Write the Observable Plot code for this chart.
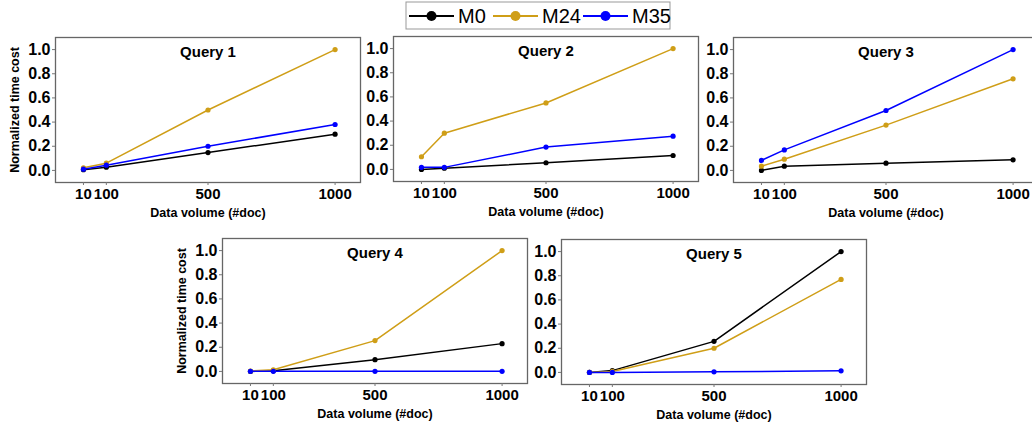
<!DOCTYPE html>
<html><head><meta charset="utf-8">
<script src="https://cdn.jsdelivr.net/npm/d3@7"></script>
<script src="https://cdn.jsdelivr.net/npm/@observablehq/plot@0.6"></script>
<style>
html,body{margin:0;padding:0;background:#fff;}
#root{position:relative;width:1032px;height:426px;overflow:hidden;font-family:"Liberation Sans",Arial,sans-serif;}
.panel{position:absolute;}
</style></head><body><div id="root"></div>
<script>
// ---- data ----
const volumes = [10, 100, 500, 1000];
const xTicks = [10, 100, 500, 1000];
const yTicks = [0, 0.2, 0.4, 0.6, 0.8, 1.0];
const series = ["M0", "M24", "M35"];
const colors = ["#000000", "#cf9e17", "#0000ff"];
const queries = ["Query 1", "Query 2", "Query 3", "Query 4", "Query 5"];
const xLabel = "Data volume (#doc)";
const yLabel = "Normalized time cost";

const q1_M0  = [0.006, 0.027, 0.148, 0.30];
const q1_M24 = [0.022, 0.060, 0.500, 1.00];
const q1_M35 = [0.010, 0.043, 0.200, 0.38];

const q2_M0  = [0.000, 0.010, 0.055, 0.115];
const q2_M24 = [0.105, 0.300, 0.550, 1.000];
const q2_M35 = [0.017, 0.017, 0.185, 0.275];

const q3_M0  = [0.000, 0.035, 0.060, 0.088];
const q3_M24 = [0.035, 0.093, 0.375, 0.758];
const q3_M35 = [0.083, 0.170, 0.496, 1.000];

const q4_M0  = [0.000, 0.005, 0.097, 0.230];
const q4_M24 = [0.003, 0.014, 0.255, 1.000];
const q4_M35 = [0.001, 0.001, 0.001, 0.001];

const q5_M0  = [0.000, 0.015, 0.257, 1.000];
const q5_M24 = [0.000, 0.008, 0.200, 0.770];
const q5_M35 = [0.000, 0.000, 0.005, 0.013];

const values = [
  [q1_M0, q1_M24, q1_M35],
  [q2_M0, q2_M24, q2_M35],
  [q3_M0, q3_M24, q3_M35],
  [q4_M0, q4_M24, q4_M35],
  [q5_M0, q5_M24, q5_M35]
];

// ---- layout ----
const FONT = '"Liberation Sans", Arial, sans-serif';
const panelPos = [[55,37],[393,36],[733,37],[222,238],[561,239]];
const showYLabel = [true,false,false,true,false];
const FW = 305, FH = 145, ML = 60, MT = 10, MR = 10, MB = 45;
const root = document.getElementById("root");

function panel(i) {
  const rows = [];
  series.forEach((s, k) => volumes.forEach((v, j) => rows.push({series: s, volume: v, cost: values[i][k][j]})));
  const marks = [
    Plot.frame({stroke: "#666", strokeWidth: 1.3}),
    Plot.axisX({ticks: xTicks, tickFormat: d => String(d), tickSize: 3, tickPadding: 3, stroke: "#777", fill: "#000",
                fontSize: 15, fontWeight: "bold", label: null}),
    Plot.axisY({ticks: yTicks, tickFormat: d => d.toFixed(1), tickSize: 3, tickPadding: 2, stroke: "#777", fill: "#000",
                fontSize: 16, fontWeight: "bold", label: null}),
    Plot.line(rows, {x: "volume", y: "cost", stroke: "series", z: "series", strokeWidth: 1.5}),
    Plot.dot(rows, {x: "volume", y: "cost", fill: "series", r: 2.6}),
    Plot.text([queries[i]], {frameAnchor: "top", dy: 15, lineAnchor: "middle", textAnchor: "middle",
                             fontSize: 15, fontWeight: "bold", fill: "#000"}),
    Plot.text([xLabel], {frameAnchor: "bottom", dy: 30, lineAnchor: "middle", textAnchor: "middle",
                         fontSize: 12.5, fontWeight: "bold", fill: "#000"})
  ];
  if (showYLabel[i]) marks.push(Plot.text([yLabel], {frameAnchor: "left", dx: -41, rotate: -90, lineAnchor: "middle",
                                  textAnchor: "middle", fontSize: 12.5, fontWeight: "bold", fill: "#000"}));
  const chart = Plot.plot({
    width: ML + FW + MR, height: MT + FH + MB,
    marginLeft: ML, marginTop: MT, marginRight: MR, marginBottom: MB,
    style: {fontFamily: FONT, background: "transparent", overflow: "visible"},
    x: {domain: [-100, 1100]},
    y: {domain: [-0.1, 1.1]},
    color: {domain: series, range: colors},
    marks
  });
  chart.classList.add("panel");
  chart.style.left = (panelPos[i][0] - ML) + "px";
  chart.style.top = (panelPos[i][1] - MT) + "px";
  root.appendChild(chart);
}
queries.forEach((q, i) => panel(i));

// ---- legend ----
const legendX = [2, 86, 176];
const lg = d3.select(root).append("svg")
  .attr("width", 266).attr("height", 29)
  .style("position", "absolute").style("left", "405px").style("top", "1px");
lg.append("rect").attr("x", 1).attr("y", 1).attr("width", 264).attr("height", 27)
  .attr("fill", "#fff").attr("stroke", "#999").attr("stroke-width", 1);
series.forEach((s, k) => {
  const g = lg.append("g").attr("transform", `translate(${legendX[k]},15)`);
  g.append("line").attr("x1", 2).attr("x2", 47).attr("y1", 0).attr("y2", 0)
    .attr("stroke", colors[k]).attr("stroke-width", 2);
  g.append("circle").attr("cx", 24.5).attr("cy", 0).attr("r", 5).attr("fill", colors[k]);
  g.append("text").attr("x", 51).attr("y", 0).attr("dy", "0.36em")
    .attr("font-family", FONT).attr("font-size", 20).attr("fill", "#000").text(s);
});
</script></body></html>
